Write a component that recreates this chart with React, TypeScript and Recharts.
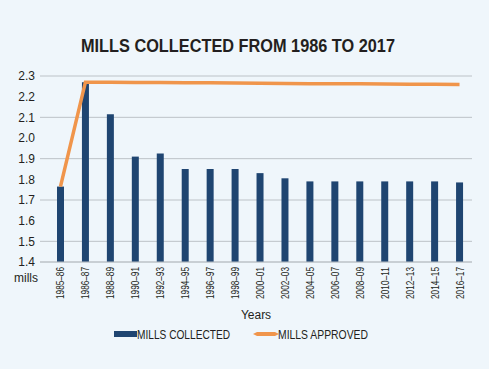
import { ComposedChart, Bar, Line, XAxis, YAxis, CartesianGrid, Legend } from 'recharts'

const years = ['1985–86', '1986–87', '1988–89', '1990–91', '1992–93', '1994–95', '1996–97', '1998–99', '2000–01', '2002–03', '2004–05', '2006–07', '2008–09', '2010–11', '2012–13', '2014–15', '2016–17']
const collected = [1.765, 2.27, 2.115, 1.91, 1.925, 1.85, 1.85, 1.85, 1.83, 1.805, 1.79, 1.79, 1.79, 1.79, 1.79, 1.79, 1.785]
const approved = [1.765, 2.27, 2.27, 2.269, 2.268, 2.267, 2.267, 2.266, 2.265, 2.264, 2.263, 2.263, 2.262, 2.261, 2.26, 2.26, 2.259]
const yTicks = [1.4, 1.5, 1.6, 1.7, 1.8, 1.9, 2.0, 2.1, 2.2, 2.3]

const data = years.map((y, i) => ({ year: y, collected: collected[i], approved: approved[i] }))

const FONT = '"Liberation Sans", Arial, sans-serif'
const BLUE = '#1f4571'
const ORANGE = '#f0954b'
const INK = '#231f20'
const GRID = '#bcc2c7'

const YearTick = (props: any) => {
    const { x, y, payload } = props
    const ty = y - 3
    return (
        <text
            x={x}
            y={ty}
            transform={`rotate(-90, ${x}, ${ty})`}
            textAnchor="end"
            dominantBaseline="central"
            fontSize={11.5}
            fontFamily={FONT}
            textLength={32}
            lengthAdjust="spacingAndGlyphs"
            fill={INK}
        >
            {payload.value}
        </text>
    )
}

const LegendBox = () => (
    <svg width={489} height={20} style={{ display: 'block' }}>
        <rect x={114} y={7} width={23} height={6} fill={BLUE} />
        <text x={137} y={14.5} fontSize={13} fontFamily={FONT} fill={INK} textLength={93} lengthAdjust="spacingAndGlyphs">MILLS COLLECTED</text>
        <polygon points="253,10 257,8 275,8 279,10 275,12 257,12" fill={ORANGE} />
        <text x={278} y={14.5} fontSize={13} fontFamily={FONT} fill={INK} textLength={90} lengthAdjust="spacingAndGlyphs">MILLS APPROVED</text>
    </svg>
)

export default function App() {
    return (
        <div style={{ position: 'absolute', left: 0, top: 0, width: 489, height: 369, background: '#eff6fb', overflow: 'hidden' }}>
            <svg width={489} height={60} style={{ position: 'absolute', left: 0, top: 0 }}>
                <text x={81} y={52} fontSize={19} fontWeight="bold" fontFamily={FONT} fill={INK} textLength={314} lengthAdjust="spacingAndGlyphs">
                    MILLS COLLECTED FROM 1986 TO 2017
                </text>
            </svg>
            <div style={{ position: 'absolute', top: 271, left: 14, fontFamily: FONT, fontSize: 12, color: INK }}>mills</div>
            <ComposedChart width={489} height={369} data={data} margin={{ top: 76, right: 17, bottom: 0, left: 0 }}>
                <CartesianGrid vertical={false} stroke={GRID} strokeWidth={1} />
                <XAxis
                    dataKey="year"
                    interval={0}
                    tick={<YearTick />}
                    tickLine={false}
                    axisLine={{ stroke: GRID }}
                    height={62}
                    padding={{ left: 8, right: 0 }}
                    label={{ value: 'Years', position: 'insideBottom', offset: 5, fontSize: 12, fontFamily: FONT, fill: INK }}
                />
                <YAxis
                    domain={[1.4, 2.3]}
                    ticks={yTicks}
                    tickFormatter={(v: number) => v.toFixed(1)}
                    width={40}
                    tickLine={false}
                    axisLine={false}
                    tickSize={3}
                    tick={{ fontSize: 12, fontFamily: FONT, fill: INK }}
                    allowDataOverflow
                />
                <Legend verticalAlign="bottom" height={45} content={<LegendBox />} />
                <Bar dataKey="collected" name="MILLS COLLECTED" fill={BLUE} barSize={7} isAnimationActive={false} />
                <Line dataKey="approved" name="MILLS APPROVED" stroke={ORANGE} strokeWidth={3.5} dot={false} type="linear" isAnimationActive={false} />
            </ComposedChart>
        </div>
    )
}
